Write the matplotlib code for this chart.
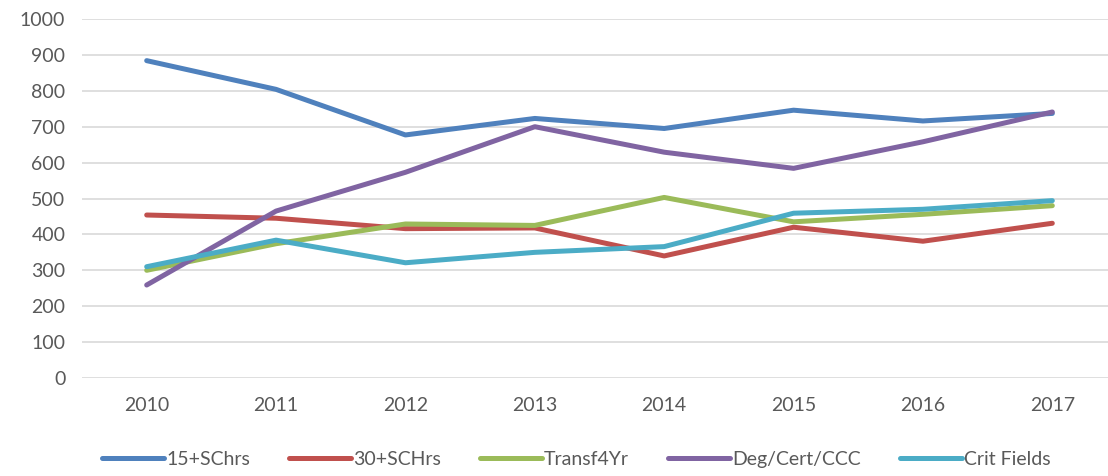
import matplotlib
matplotlib.use('Agg')
import matplotlib.pyplot as plt

## data
years = ['2010', '2011', '2012', '2013', '2014', '2015', '2016', '2017']
sc15 = [884, 804, 677, 723, 695, 746, 716, 737]
sc30 = [454, 445, 416, 418, 340, 420, 381, 431]
transf = [300, 374, 429, 425, 503, 435, 456, 480]
degcert = [259, 465, 573, 700, 629, 584, 658, 741]
critfields = [310, 384, 321, 350, 366, 459, 470, 494]

series = [('15+SChrs', sc15, '#4F81BD'),
          ('30+SCHrs', sc30, '#C0504D'),
          ('Transf4Yr', transf, '#9BBB59'),
          ('Deg/Cert/CCC', degcert, '#8064A2'),
          ('Crit Fields', critfields, '#4BACC6')]

plt.rcParams['font.family'] = ['Lato', 'DejaVu Sans']
txt = '#595959'

fig = plt.figure(figsize=(11.08, 4.76), dpi=100)
ax = fig.add_axes([82 / 1108, 1 - 378 / 476, 1 - 82 / 1108, (378 - 19) / 476])

x = list(range(len(years)))
for name, vals, col in series:
    ax.plot(x, vals, color=col, lw=3.6, label=name, solid_capstyle='round', solid_joinstyle='round')

ax.set_ylim(0, 1000)
ax.set_yticks(range(0, 1001, 100))
ax.set_xlim(-0.5, (1108 - 146.5) / 129.4)
ax.set_xticks(x)
ax.set_xticklabels(years)
ax.grid(axis='y', color='#D9D9D9', lw=1.2)
ax.set_axisbelow(True)
for s in ax.spines.values():
    s.set_visible(False)
ax.tick_params(length=0, labelsize=14, labelcolor=txt)
ax.tick_params(axis='x', pad=14)
ax.tick_params(axis='y', pad=12)

fig.legend(loc='lower center', ncol=5, frameon=False, fontsize=14, labelcolor=txt,
           bbox_to_anchor=(0.52, -0.02), handlelength=3.2, handletextpad=0.1, columnspacing=2.0)

fig.savefig('out.png', dpi=100)
